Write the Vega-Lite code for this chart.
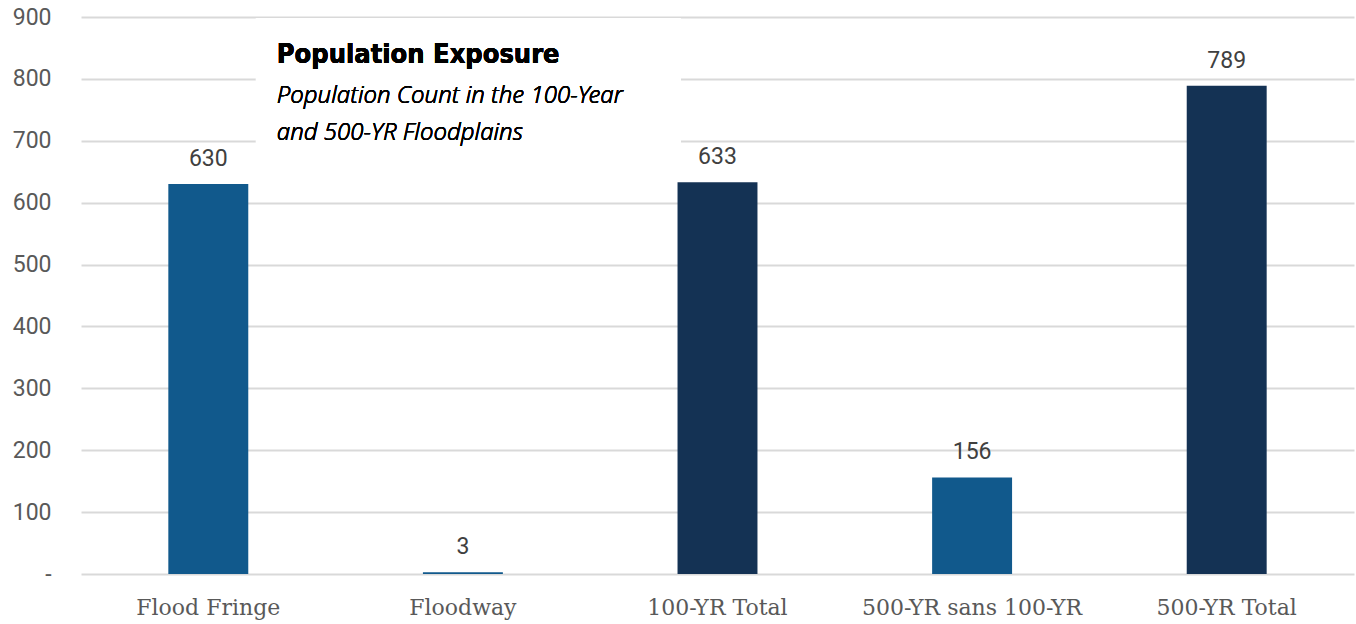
{
  "$schema": "https://vega.github.io/schema/vega-lite/v6.json",
  "width": 1273,
  "height": 557,
  "autosize": {"type": "none"},
  "padding": {"left": 81, "top": 17, "right": 2, "bottom": 50},
  "background": "white",
  "config": {"view": {"stroke": null}},
  "data": {
    "values": [
      {"category": "Flood Fringe", "population": 630, "kind": "Component"},
      {"category": "Floodway", "population": 3, "kind": "Component"},
      {"category": "100-YR Total", "population": 633, "kind": "Total"},
      {"category": "500-YR sans 100-YR", "population": 156, "kind": "Component"},
      {"category": "500-YR Total", "population": 789, "kind": "Total"}
    ]
  },
  "resolve": {"scale": {"x": "independent"}, "axis": {"x": "independent", "y": "independent"}},
  "layer": [
    {
      "layer": [
        {
          "mark": {"type": "bar"},
          "encoding": {
            "x": {
              "field": "category", "type": "nominal", "sort": null,
              "scale": {"paddingInner": 0.686, "paddingOuter": 0.343},
              "axis": {
                "title": null, "domain": false, "ticks": false, "labelAngle": 0,
                "labelFont": "DejaVu Serif", "labelFontSize": 22, "labelColor": "#595959",
                "labelPadding": 23, "labelLimit": 400
              }
            },
            "y": {
              "field": "population", "type": "quantitative",
              "scale": {"domain": [0, 900], "nice": false},
              "axis": {
                "title": null, "domain": false, "ticks": false,
                "values": [0, 100, 200, 300, 400, 500, 600, 700, 800, 900],
                "labelOverlap": false,
                "labelExpr": "datum.value == 0 ? '-' : datum.label",
                "labelFont": "Roboto", "labelFontSize": 23, "labelColor": "#595959",
                "labelPadding": 30,
                "grid": true, "gridColor": "#d9d9d9", "gridWidth": 2
              }
            },
            "color": {
              "field": "kind", "type": "nominal", "legend": null,
              "scale": {"domain": ["Component", "Total"], "range": ["#11598c", "#143254"]}
            }
          }
        },
        {
          "mark": {"type": "text", "font": "Roboto", "fontSize": 23, "color": "#404040", "baseline": "alphabetic", "dy": -18},
          "encoding": {
            "x": {"field": "category", "type": "nominal", "sort": null},
            "y": {"field": "population", "type": "quantitative"},
            "text": {"field": "population", "type": "quantitative", "format": "d"}
          }
        }
      ]
    },
    {
      "layer": [
        {
          "mark": {"type": "rect", "color": "white"},
          "encoding": {
            "x": {"datum": 0.687, "type": "quantitative", "scale": {"domain": [0, 5], "nice": false, "zero": false}, "axis": null},
            "x2": {"datum": 2.355},
            "y": {"datum": 898, "type": "quantitative", "axis": null},
            "y2": {"datum": 665}
          }
        },
        {
          "mark": {"type": "text", "font": "DejaVu Sans Condensed", "fontWeight": "bold", "fontSize": 27, "color": "#000000", "align": "left", "baseline": "alphabetic"},
          "encoding": {
            "x": {"datum": 0.769, "type": "quantitative", "axis": null},
            "y": {"datum": 826, "type": "quantitative", "axis": null},
            "text": {"value": "Population Exposure"}
          }
        },
        {
          "mark": {"type": "text", "font": "Noto Sans", "fontStyle": "italic", "fontWeight": 300, "fontSize": 24, "color": "#000000", "align": "left", "baseline": "alphabetic", "lineHeight": 37},
          "encoding": {
            "x": {"datum": 0.769, "type": "quantitative", "axis": null},
            "y": {"datum": 761, "type": "quantitative", "axis": null},
            "text": {"value": ["Population Count in the 100-Year", "and 500-YR Floodplains"]}
          }
        }
      ]
    }
  ]
}
